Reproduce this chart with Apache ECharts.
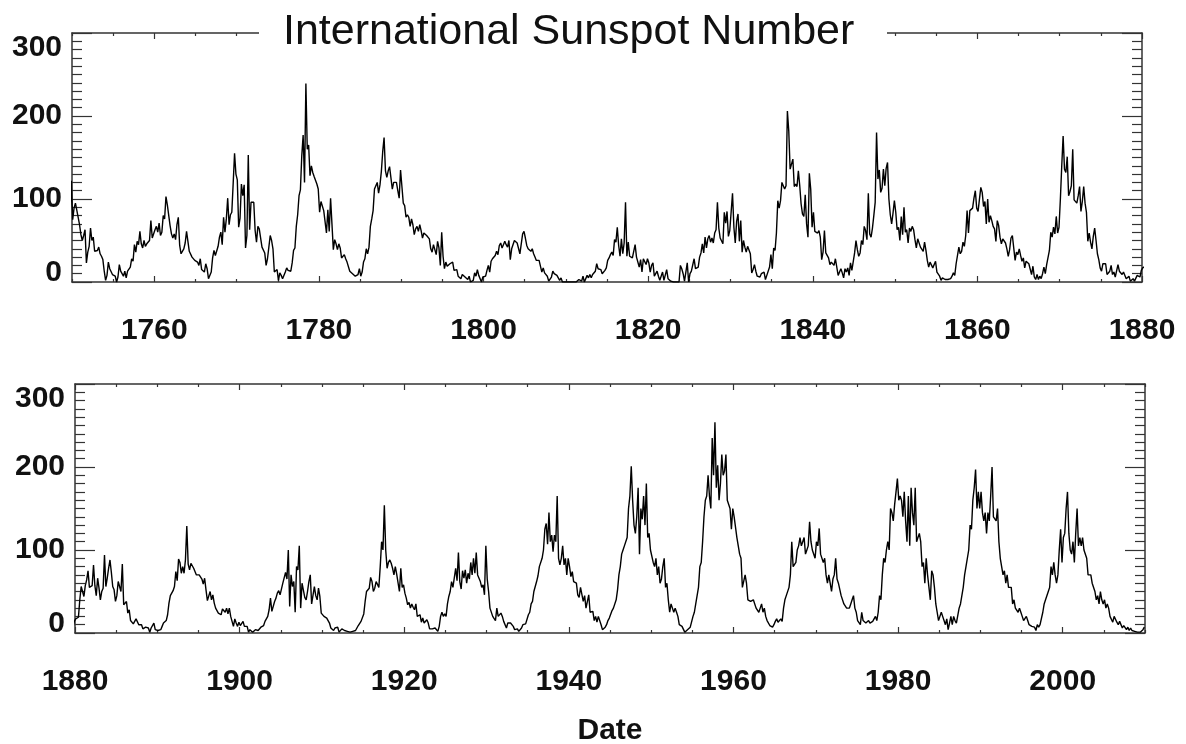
<!DOCTYPE html>
<html><head><meta charset="utf-8">
<script src="https://cdn.jsdelivr.net/npm/echarts@6/dist/echarts.min.js"></script>
<style>html,body{margin:0;padding:0;background:#fff}#chart{width:1186px;height:744px}</style>
</head><body><div id="chart"></div>
<script>
// ---------------- DATA ----------------
const chartTitle = 'International Sunspot Number';
const xAxisName = 'Date';
const yTickValues = [0, 100, 200, 300];
const topXRange = [1750, 1880];
const bottomXRange = [1880, 2010];
const topXLabels = [1760, 1780, 1800, 1820, 1840, 1860, 1880];
const bottomXLabels = [1880, 1900, 1920, 1940, 1960, 1980, 2000];
// each row: year, then six bi-monthly sunspot numbers
const ssn1749to1799 = [
[1749,60,70,84,80,76,122],[1750,75,89,95,94,78,69],[1751,57,50,56,63,23,36],[1752,43,65,50,54,37,39],
[1753,38,42,34,31,27,13],[1754,2,8,24,16,16,9],[1755,11,7,0,6,21,13],[1756,10,7,13,5,13,13],
[1757,18,28,25,45,36,49],[1758,45,61,46,41,50,43],[1759,46,47,50,74,53,52],[1760,63,67,60,71,56,60],
[1761,80,76,103,93,95,68],[1762,58,53,58,51,69,78],[1763,44,34,34,40,47,61],[1764,60,37,37,30,28,26],
[1765,25,24,20,28,15,14],[1766,12,22,16,4,5,12],[1767,29,38,32,31,43,54],[1768,60,45,78,60,76,101],
[1769,69,81,84,119,155,130],[1770,123,66,77,118,104,117],[1771,41,56,153,63,96,98],[1772,96,62,48,67,64,63],
[1773,42,42,35,20,28,42],[1774,56,50,40,12,11,15],[1775,2,11,8,4,4,12],[1776,17,14,15,13,23,38],
[1777,41,67,81,104,111,152],[1778,177,120,239,160,165,128],[1779,140,132,127,128,118,112],[1780,84,97,98,86,85,59],
[1781,87,61,101,70,39,51],[1782,46,39,46,41,29,31],[1783,33,28,24,26,13,13],[1784,10,11,7,8,9,16],
[1785,7,12,24,28,40,34],[1786,42,67,76,86,112,114],[1787,120,107,117,133,157,174],[1788,134,126,134,139,141,112],
[1789,120,122,120,110,101,135],[1790,115,95,92,78,81,78],[1791,67,76,69,57,64,67],[1792,61,69,62,53,59,57],
[1793,56,54,52,40,36,45],[1794,45,33,49,41,20,60],[1795,31,16,24,19,17,22],[1796,23,24,14,14,15,7],
[1797,9,4,9,8,6,4],[1798,3,7,0,2,2,11],[1799,7,15,8,6,0,6]
];
const ssn1800to1849 = [
[1800,8,7,14,20,12,25],[1801,28,30,32,37,33,44],[1802,47,41,45,49,45,42],[1803,50,27,40,41,50,49],
[1804,47,49,34,36,58,61],[1805,53,44,40,40,37,40],[1806,34,30,26,28,26,25],[1807,12,17,11,12,7,1],
[1808,2,6,13,10,10,8],[1809,8,2,5,0,0,0],[1810,0,0,0,0,0,0],[1811,0,0,0,3,4,1],
[1812,7,0,1,8,5,9],[1813,5,9,8,13,22,16],[1814,17,15,10,10,14,17],[1815,26,29,33,36,32,51],
[1816,48,66,44,31,52,34],[1817,47,96,31,48,31,29],[1818,29,30,45,30,29,18],[1819,27,12,28,29,21,28],
[1820,23,12,20,23,7,9],[1821,13,7,2,4,12,2],[1822,0,15,4,5,1,0],[1823,0,0,0,0,0,20],
[1824,16,10,1,1,23,0],[1825,10,13,15,28,16,17],[1826,18,30,35,46,35,54],[1827,41,52,56,48,53,47],
[1828,59,63,96,65,53,52],[1829,46,84,71,85,55,62],[1830,62,107,66,47,73,82],[1831,49,74,36,50,42,36],
[1832,43,41,34,11,15,21],[1833,13,7,7,6,10,8],[1834,12,3,8,6,18,33],[1835,16,41,38,59,98,89],
[1836,98,120,118,112,116,206],[1837,182,136,135,148,115,118],[1838,115,134,116,94,82,79],[1839,105,70,54,131,112,66],
[1840,84,61,59,59,62,54],[1841,27,36,62,35,32,29],[1842,21,24,23,20,28,29],[1843,8,9,16,11,5,16],
[1844,12,17,8,23,14,16],[1845,35,50,39,31,35,50],[1846,45,67,62,51,107,58],[1847,54,65,80,96,180,124],
[1848,135,108,113,136,116,137],[1849,144,100,81,70,83,98]
];
const ssn1850to1899 = [
[1850,84,63,66,50,79,57],[1851,90,60,63,47,65,61],[1852,67,63,51,41,52,50],[1853,42,43,37,48,38,26],
[1854,18,24,23,17,18,25],[1855,12,11,7,2,5,4],[1856,3,3,3,5,4,7],[1857,11,8,22,20,42,34],
[1858,37,48,43,56,86,59],[1859,86,88,89,101,110,89],[1860,85,85,114,108,91,97],[1861,70,100,72,80,74,67],
[1862,64,49,74,68,54,46],[1863,52,54,47,40,31,39],[1864,53,56,55,26,36,33],[1865,40,32,25,29,17,25],
[1866,24,22,20,9,19,6],[1867,3,9,3,7,4,10],[1868,18,10,21,22,38,60],[1869,54,66,58,79,59,66],
[1870,100,140,176,136,132,151],[1871,104,109,116,160,99,99],[1872,95,104,115,85,97,115],[1873,95,84,49,59,48,40],
[1874,55,65,50,34,27,17],[1875,13,22,20,22,9,8],[1876,13,20,9,12,6,6],[1877,21,13,15,9,12,11],
[1878,4,5,7,1,2,4],[1879,1,2,8,6,6,14],[1880,17,19,19,40,56,50],[1881,44,57,64,75,55,54],
[1882,57,82,57,45,66,54],[1883,40,50,54,94,56,66],[1884,78,88,73,56,52,38],[1885,45,62,60,50,83,34],
[1886,32,38,24,28,15,14],[1887,11,14,17,16,10,11],[1888,10,5,5,7,8,6],[1889,1,6,8,12,4,6],
[1890,3,3,4,8,12,13],[1891,15,22,36,45,45,51],[1892,56,74,63,89,85,72],[1893,80,72,88,129,83,76],
[1894,84,86,78,80,70,70],[1895,70,72,65,59,66,52],[1896,39,40,50,40,46,36],[1897,30,28,24,24,22,29],
[1898,29,25,30,23,30,20],[1899,14,8,17,12,8,13]
];
const ssn1900to1949 = [
[1900,9,11,14,8,7,8],[1901,1,4,3,1,3,4],[1902,3,3,3,7,5,9],[1903,14,16,20,28,42,26],
[1904,27,38,42,48,51,46],[1905,46,60,58,73,65,100],[1906,32,70,56,62,25,80],[1907,76,105,30,60,58,43],
[1908,40,50,62,70,35,34],[1909,56,45,40,54,44,24],[1910,26,20,19,18,17,12],[1911,6,4,3,6,8,7],
[1912,1,2,5,5,3,5],[1913,2,1,1,0,2,2],[1914,3,6,9,10,14,15],[1915,23,38,50,52,54,67],
[1916,62,50,54,62,60,55],[1917,80,110,100,154,100,78],[1918,85,88,84,78,70,80],[1919,71,70,50,78,55,58],
[1920,48,42,34,37,30,35],[1921,31,28,35,20,20,22],[1922,13,18,12,14,16,12],[1923,5,4,5,7,6,8],
[1924,2,8,20,25,20,23],[1925,20,35,44,50,62,55],[1926,55,78,63,97,62,53],[1927,75,66,76,60,72,65],
[1928,85,70,90,72,97,70],[1929,70,62,55,58,46,105],[1930,65,50,30,30,20,20],[1931,15,30,20,18,24,20],
[1932,14,12,6,12,10,12],[1933,12,8,4,2,5,2],[1934,4,6,10,10,11,11],[1935,22,25,35,38,50,48],
[1936,62,69,80,80,90,100],[1937,125,132,107,145,110,118],[1938,98,118,110,165,90,82],[1939,90,105,82,90,70,90],
[1940,80,68,74,62,60,60],[1941,46,43,55,55,38,45],[1942,30,30,46,25,26,26],[1943,15,20,13,20,20,10],
[1944,4,3,7,10,15,18],[1945,20,27,30,30,40,52],[1946,70,80,95,100,105,105],[1947,115,150,165,201,160,130],
[1948,120,140,175,95,150,137],[1949,165,130,180,115,120,100]
];
const ssn1950to2009 = [
[1950,100,85,80,90,70,80],[1951,60,65,80,90,55,60],[1952,40,25,35,30,25,30],[1953,25,20,10,10,8,10],
[1954,1,3,4,3,7,9],[1955,20,25,35,35,55,80],[1956,85,110,140,160,165,190],[1957,165,150,235,190,254,175],
[1958,202,160,180,215,190,195],[1959,215,160,160,150,125,150],[1960,140,140,115,105,95,90],[1961,55,55,70,60,40,40],
[1962,38,40,40,40,30,30],[1963,25,30,35,25,30,20],[1964,15,13,9,8,7,10],[1965,14,17,13,15,17,14],
[1966,30,40,45,45,55,70],[1967,110,80,80,85,100,105],[1968,115,105,110,115,95,100],[1969,105,134,110,100,100,90],
[1970,110,105,126,95,95,85],[1971,90,70,60,70,60,50],[1972,65,70,90,65,60,60],[1973,45,45,35,35,30,30],
[1974,30,35,40,45,30,25],[1975,15,15,10,25,15,15],[1976,12,12,15,12,10,14],[1977,16,20,15,25,45,40],
[1978,70,90,85,100,110,100],[1979,150,145,135,155,170,186],[1980,160,165,160,140,170,135],[1981,110,165,105,175,145,130],
[1982,175,110,110,120,110,80],[1983,85,60,90,70,55,40],[1984,75,70,55,35,25,15],[1985,20,25,20,15,10,17],
[1986,4,12,20,10,20,15],[1987,12,10,30,35,35,55],[1988,70,80,80,100,130,125],[1989,160,175,197,150,170,150],
[1990,170,145,135,145,120,145],[1991,135,165,200,140,140,135],[1992,150,110,90,80,70,75],[1993,60,70,55,55,55,35],
[1994,40,30,30,25,30,25],[1995,20,15,15,20,15,10],[1996,10,8,9,7,3,10],[1997,7,10,12,25,35,40],
[1998,40,50,55,80,70,85],[1999,70,60,70,100,125,85],[2000,115,120,150,170,120,100],[2001,95,110,85,120,150,105],
[2002,115,105,115,100,100,90],[2003,70,70,70,60,60,50],[2004,40,45,35,50,40,35],[2005,40,30,35,30,20,20],
[2006,13,20,20,13,10,14],[2007,15,6,9,8,4,7],[2008,3,6,3,1,2,2],[2009,1,1,1,3,4,7]
];

// ---------------- BUILD ----------------
const rows = [].concat(ssn1749to1799, ssn1800to1849, ssn1850to1899, ssn1900to1949, ssn1950to2009);
const series = [];
rows.forEach(r => {
  const n = r.length - 1;
  for (let k = 0; k < n; k++) series.push([r[0] + (k + 0.5) / n, r[k + 1]]);
});
const topData = series.filter(p => p[0] <= topXRange[1] + 1);
const bottomData = series.filter(p => p[0] >= bottomXRange[0] - 1);

const FONT = '"Liberation Sans", Arial, Helvetica, sans-serif';
const AX = '#333';
const labelStyle = { fontSize: 30, fontWeight: 'bold', color: '#111', fontFamily: FONT };
const plain = v => String(Math.round(v));

function xAxes(gridIndex, range, labels, withName) {
  const minor = [];
  for (let v = range[0]; v <= range[1]; v += 5) if (labels.indexOf(v) < 0) minor.push(v);
  const base = {
    type: 'value', gridIndex, min: range[0], max: range[1], splitLine: { show: false },
    axisLine: { show: true, onZero: false, lineStyle: { color: AX, width: 1.5 } }
  };
  const major = { show: true, inside: true, length: 6, customValues: labels, lineStyle: { color: AX, width: 1.2 } };
  const minorT = { show: true, inside: true, length: 3, customValues: minor, lineStyle: { color: AX, width: 1.2 } };
  const main = Object.assign({}, base, {
    position: 'bottom', axisTick: major,
    axisLabel: Object.assign({ show: true, margin: 34, customValues: labels, formatter: plain }, labelStyle)
  });
  if (withName) {
    main.name = xAxisName; main.nameLocation = 'middle'; main.nameGap = 83;
    main.nameTextStyle = labelStyle;
  }
  return [
    main,
    Object.assign({}, base, { position: 'bottom', axisLine: { show: false, onZero: false }, axisTick: minorT, axisLabel: { show: false } }),
    Object.assign({}, base, { position: 'top', axisTick: major, axisLabel: { show: false } }),
    Object.assign({}, base, { position: 'top', axisLine: { show: false, onZero: false }, axisTick: minorT, axisLabel: { show: false } })
  ];
}
function yAxes(gridIndex) {
  const base = {
    type: 'value', gridIndex, min: yTickValues[0], max: yTickValues[yTickValues.length - 1],
    interval: yTickValues[1] - yTickValues[0], splitLine: { show: false },
    axisLine: { show: true, onZero: false, lineStyle: { color: AX, width: 1.5 } },
    axisTick: { show: true, inside: true, length: 20, lineStyle: { color: AX, width: 1.2 } },
    minorTick: { show: true, splitNumber: 10, length: 10, lineStyle: { color: AX, width: 1.2 } }
  };
  return [
    Object.assign({}, base, { position: 'left', axisLabel: Object.assign({ show: true, margin: 10,
      lineHeight: 30,
      formatter: v => v === yTickValues[0] ? '{lo|' + plain(v) + '}' : plain(v),
      rich: { lo: Object.assign({ lineHeight: 18 }, labelStyle) },
      verticalAlignMinLabel: 'bottom', verticalAlignMaxLabel: 'top' }, labelStyle) }),
    Object.assign({}, base, { position: 'right', axisLabel: { show: false } })
  ];
}

const chart = echarts.init(document.getElementById('chart'), null, { renderer: 'canvas' });
chart.setOption({
  backgroundColor: '#fff',
  animation: false,
  title: {
    text: chartTitle, left: 283, top: 11, padding: 0, z: 200,
    textStyle: { fontSize: 43, fontWeight: 'normal', color: '#111', fontFamily: FONT }
  },
  graphic: [{ type: 'rect', z: 100, shape: { x: 259, y: 24, width: 628, height: 18 }, style: { fill: '#fff' } }],
  grid: [
    { left: 72, top: 33, width: 1070, height: 249, outerBoundsMode: 'none', containLabel: false },
    { left: 75, top: 384, width: 1070, height: 249, outerBoundsMode: 'none', containLabel: false }
  ],
  xAxis: [].concat(xAxes(0, topXRange, topXLabels, false), xAxes(1, bottomXRange, bottomXLabels, true)),
  yAxis: [].concat(yAxes(0), yAxes(1)),
  series: [
    { type: 'line', xAxisIndex: 0, yAxisIndex: 0, data: topData, symbol: 'none', clip: true,
      lineStyle: { color: '#000', width: 1.4 } },
    { type: 'line', xAxisIndex: 4, yAxisIndex: 2, data: bottomData, symbol: 'none', clip: true,
      lineStyle: { color: '#000', width: 1.4 } }
  ]
});
</script>
</body></html>
